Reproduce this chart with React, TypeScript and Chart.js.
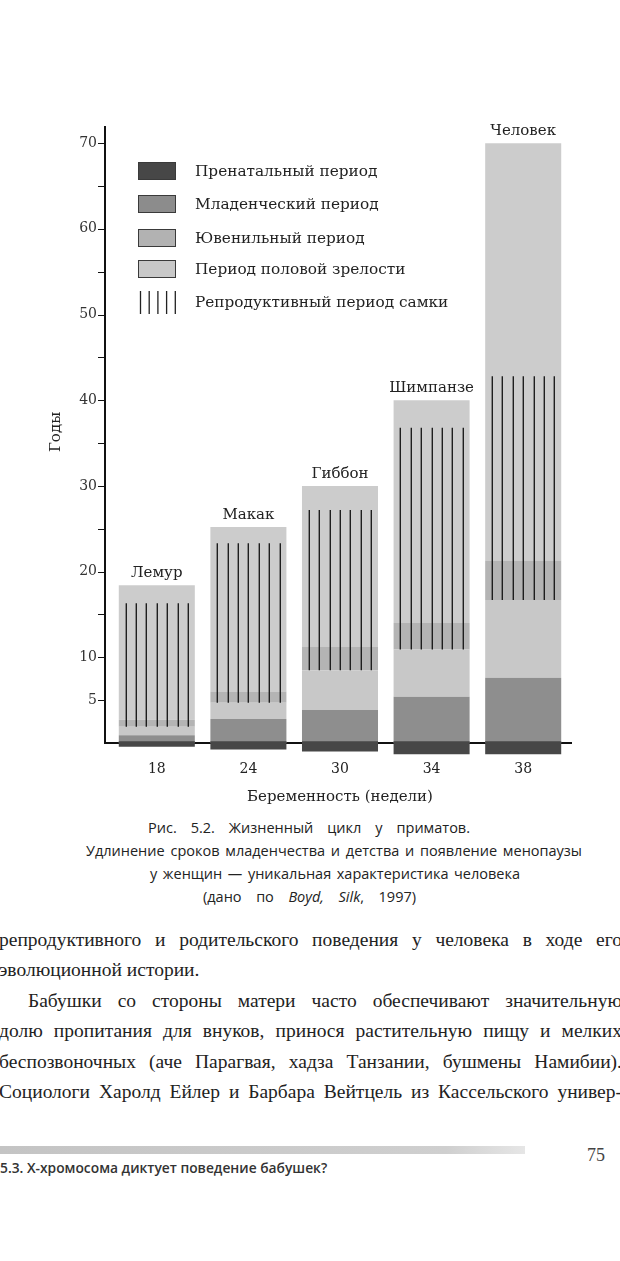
import React, { useEffect, useRef } from "react";
import { Chart, registerables } from "chart.js";

Chart.register(...registerables);

// ---- data (years) ----
const gestationWeeks = ["18", "24", "30", "34", "38"];
const species = ["Лемур", "Макак", "Гиббон", "Шимпанзе", "Человек"];
const prenatalDepth = [0.45, 0.75, 1.0, 1.3, 1.3];
const infantEnd = [0.9, 2.8, 3.85, 5.4, 7.6];
const reproStart = [1.9, 4.7, 8.5, 10.9, 16.7];
const juvenileEnd = [2.7, 6.0, 11.2, 14.0, 21.3];
const reproEnd = [16.3, 23.3, 27.2, 36.8, 42.8];
const lifespan = [18.4, 25.2, 30.0, 40.0, 70.0];

const yTickValues = [5, 10, 15, 20, 25, 30, 35, 40, 45, 50, 55, 60, 65, 70];
const yLabelValues = [5, 10, 20, 30, 40, 50, 60, 70];

const legendLabels = [
  "Пренатальный период",
  "Младенческий период",
  "Ювенильный период",
  "Период половой зрелости",
];
const reproLegendLabel = "Репродуктивный период самки";
const yTitle = "Годы";
const xTitle = "Беременность (недели)";

const SERIF = "'DejaVu Serif', serif";

const colors = {
  prenatal: "#474747",
  infant: "#8e8e8e",
  juvenile: "#c8c8c8",
  band: "#b4b4b4",
  adult: "#cccccc",
};
const legendColors = ["#474747", "#8c8c8c", "#b2b2b2", "#c8c8c8"];

const pairs = (a: number[], b: number[]) => a.map((v, i) => [v, b[i]]);

const decorPlugin = {
  id: "decor",
  beforeDatasetsDraw(chart: any) {
    const { ctx, scales } = chart;
    const y = scales.y;
    const ca = chart.chartArea;
    const axisX = ca.left - 6;
    const y0 = y.getPixelForValue(0);
    ctx.save();
    ctx.strokeStyle = "#111";
    ctx.lineWidth = 2;
    ctx.beginPath();
    ctx.moveTo(axisX, y.getPixelForValue(72));
    ctx.lineTo(axisX, y0 + 1);
    ctx.moveTo(axisX - 1, y0);
    ctx.lineTo(ca.right + 3, y0);
    ctx.stroke();
    ctx.lineWidth = 1.2;
    ctx.beginPath();
    yTickValues.forEach((v) => {
      const py = Math.round(y.getPixelForValue(v)) + 0.5;
      ctx.moveTo(axisX - 7, py);
      ctx.lineTo(axisX, py);
    });
    ctx.stroke();
    ctx.restore();
  },
  afterDatasetsDraw(chart: any) {
    const { ctx, scales } = chart;
    const x = scales.x;
    const y = scales.y;
    const meta = chart.getDatasetMeta(0);
    ctx.save();
    // reproductive lines
    ctx.strokeStyle = "#1e1e1e";
    ctx.lineWidth = 1.4;
    species.forEach((_, i) => {
      const cx = x.getPixelForValue(i);
      const w = meta.data[i].width;
      const step = w / 7.3;
      const yTop = y.getPixelForValue(reproEnd[i]);
      const yBot = y.getPixelForValue(reproStart[i]);
      ctx.beginPath();
      for (let k = -3; k <= 3; k++) {
        const lx = Math.round(cx + k * step) + 0.3;
        ctx.moveTo(lx, yTop);
        ctx.lineTo(lx, yBot);
      }
      ctx.stroke();
    });
    // species labels
    ctx.fillStyle = "#222";
    ctx.font = `15px ${SERIF}`;
    ctx.textAlign = "center";
    ctx.textBaseline = "alphabetic";
    species.forEach((s, i) => {
      ctx.fillText(s, x.getPixelForValue(i), y.getPixelForValue(lifespan[i]) - 8);
    });
    // axis titles
    ctx.fillText(xTitle, 340, 801);
    ctx.save();
    ctx.translate(60, 432);
    ctx.rotate(-Math.PI / 2);
    ctx.fillText(yTitle, 0, 0);
    ctx.restore();
    // legend
    const rowsY = [171, 204, 238, 269];
    ctx.textAlign = "left";
    ctx.font = `15.3px ${SERIF}`;
    legendLabels.forEach((t, i) => {
      ctx.fillStyle = legendColors[i];
      ctx.fillRect(138, rowsY[i] - 9, 38, 18);
      ctx.strokeStyle = "#3a3a3a";
      ctx.lineWidth = 1;
      ctx.strokeRect(138.5, rowsY[i] - 8.5, 37, 17);
      ctx.fillStyle = "#222";
      ctx.fillText(t, 195, rowsY[i] + 5);
    });
    ctx.strokeStyle = "#222";
    ctx.lineWidth = 1.3;
    ctx.beginPath();
    for (let k = 0; k < 5; k++) {
      const lx = 140.5 + k * 8.7;
      ctx.moveTo(lx, 291);
      ctx.lineTo(lx, 314);
    }
    ctx.stroke();
    ctx.fillStyle = "#222";
    ctx.fillText(reproLegendLabel, 195, 307);
    ctx.restore();
  },
};

function ChartBlock() {
  const ref = useRef<HTMLCanvasElement | null>(null);
  useEffect(() => {
    if (!ref.current) return;
    const chart = new Chart(ref.current, {
      type: "bar",
      data: {
        labels: gestationWeeks,
        datasets: [
          {
            label: legendLabels[0],
            data: prenatalDepth.map((d) => [-d, 0.2]) as any,
            backgroundColor: colors.prenatal,
          },
          {
            label: legendLabels[1],
            data: pairs(species.map(() => 0), infantEnd) as any,
            backgroundColor: colors.infant,
          },
          {
            label: legendLabels[2],
            data: pairs(infantEnd, reproStart) as any,
            backgroundColor: colors.juvenile,
          },
          {
            label: legendLabels[3],
            data: pairs(reproStart, juvenileEnd) as any,
            backgroundColor: colors.band,
          },
          {
            label: "adult",
            data: pairs(juvenileEnd, lifespan) as any,
            backgroundColor: colors.adult,
          },
        ],
      },
      options: {
        responsive: false,
        animation: false,
        layout: { padding: { top: 126, right: 51, left: 0, bottom: 0 } },
        datasets: {
          bar: { grouped: false, categoryPercentage: 1, barPercentage: 0.83, borderWidth: 0 } as any,
        },
        plugins: { legend: { display: false }, tooltip: { enabled: false } },
        scales: {
          x: {
            grid: { display: false, drawTicks: false },
            border: { display: false },
            ticks: { padding: 6, color: "#222", font: { family: SERIF, size: 14 } },
            afterFit: (s: any) => {
              s.height = 55;
            },
          },
          y: {
            min: -1.4,
            max: 72,
            grid: { display: false, drawTicks: false },
            border: { display: false },
            afterBuildTicks: (s: any) => {
              s.ticks = yTickValues.map((v) => ({ value: v }));
            },
            ticks: {
              autoSkip: false,
              padding: 14,
              color: "#333",
              font: { family: SERIF, size: 14 },
              callback: (v: any) => (yLabelValues.includes(Number(v)) ? String(v) : ""),
            },
            afterFit: (s: any) => {
              s.width = 111;
            },
          },
        },
      },
      plugins: [decorPlugin],
    });
    return () => chart.destroy();
  }, []);
  return (
    <canvas
      ref={ref}
      width={620}
      height={810}
      style={{ position: "absolute", left: 0, top: 0, width: 620, height: 810 }}
    />
  );
}

const captionLines = [
  "Рис. 5.2. Жизненный цикл у приматов.",
  "Удлинение сроков младенчества и детства и появление менопаузы",
  "у женщин — уникальная характеристика человека",
];
const captionLefts = [148, 86, 150, 203];
const captionWidths = [322, 496, 370, 213];

const bodyLines = [
  "репродуктивного и родительского поведения у человека в ходе его",
  "эволюционной истории.",
  "Бабушки со стороны матери часто обеспечивают значительную",
  "долю пропитания для внуков, принося растительную пищу и мелких",
  "беспозвоночных (аче Парагвая, хадза Танзании, бушмены Намибии).",
  "Социологи Харолд Ейлер и Барбара Вейтцель из Кассельского универ-",
];

export default function App() {
  const capText = (i: number): React.CSSProperties => ({
    position: "absolute",
    left: captionLefts[i],
    top: i * 23,
    width: captionWidths[i],
    height: 23,
    lineHeight: "23px",
    fontFamily: "'Open Sans', sans-serif",
    fontSize: 14.5,
    color: "#222",
    textAlign: "justify",
    textAlignLast: "justify",
    whiteSpace: "normal",
  } as React.CSSProperties);
  return (
    <div
      style={{
        position: "absolute",
        left: 0,
        top: 0,
        width: 620,
        height: 1261,
        overflow: "hidden",
        background: "#fff",
      }}
    >
      <ChartBlock />
      <div style={{ position: "absolute", left: 0, top: 816, width: 620, height: 92 }}>
        {captionLines.map((l, i) => (
          <div key={i} style={capText(i)}>
            {l}
          </div>
        ))}
        <div style={capText(3)}>
          (дано по <i>Boyd,</i> <i>Silk</i>, 1997)
        </div>
      </div>
      <div
        style={{
          position: "absolute",
          left: -1,
          top: 925,
          width: 623,
          fontFamily: "'Liberation Serif', serif",
          fontSize: 19.5,
          color: "#222",
          lineHeight: "30.4px",
        }}
      >
        {bodyLines.map((l, i) => (
          <div
            key={i}
            style={{
              height: 30.4,
              whiteSpace: i === 1 ? "nowrap" : "normal",
              textAlign: i === 1 ? "left" : "justify",
              textAlignLast: i === 1 ? "left" : "justify",
              paddingLeft: i === 2 ? 29 : 0,
            } as React.CSSProperties}
          >
            {l}
          </div>
        ))}
      </div>
      <div
        style={{
          position: "absolute",
          left: 0,
          top: 1146,
          width: 525,
          height: 8,
          background: "linear-gradient(to right, #c4c4c4, #cfcfcf 85%, #e6e6e6)",
        }}
      />
      <div
        style={{
          position: "absolute",
          left: 0,
          top: 1158,
          fontFamily: "'Open Sans', sans-serif",
          fontWeight: 600,
          fontSize: 13.8,
          lineHeight: "20px",
          color: "#333",
          whiteSpace: "nowrap",
        }}
      >
        5.3. X-хромосома диктует поведение бабушек?
      </div>
      <div
        style={{
          position: "absolute",
          left: 587,
          top: 1144,
          fontFamily: "'Liberation Serif', serif",
          fontSize: 18,
          lineHeight: "22px",
          color: "#444",
        }}
      >
        75
      </div>
    </div>
  );
}
